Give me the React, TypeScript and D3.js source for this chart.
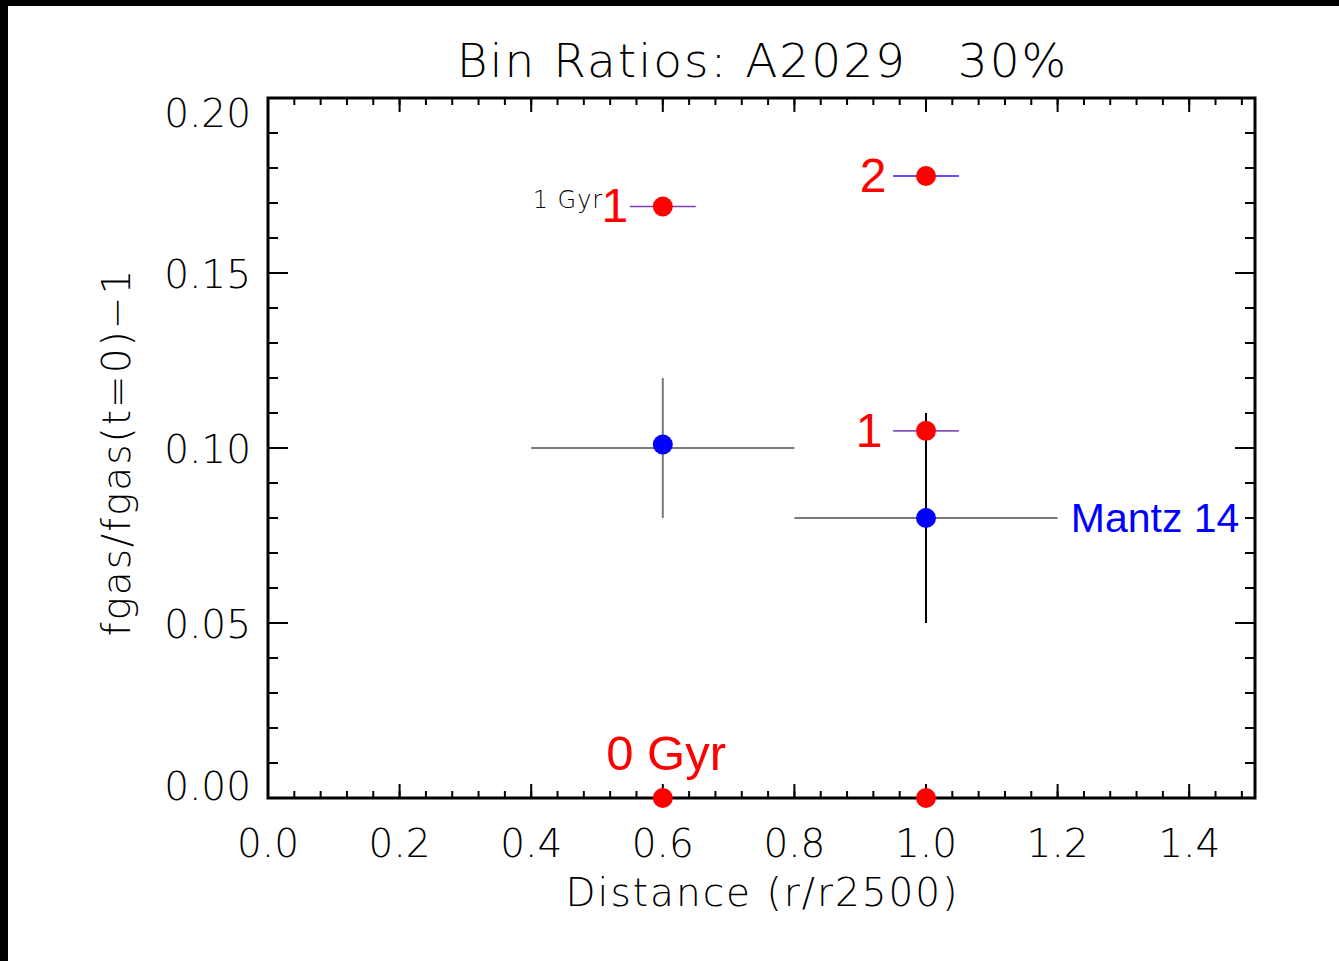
import React from 'react';
import * as d3 from 'd3';

// chart values
const xDomain = [0, 1.5];
const yDomain = [0, 0.2];
const xTickLabels = ['0.0', '0.2', '0.4', '0.6', '0.8', '1.0', '1.2', '1.4'];
const yTickLabels = ['0.00', '0.05', '0.10', '0.15', '0.20'];

// Mantz 14 (blue) with error bars
const blueX = [0.6, 1.0];
const blueY = [0.101, 0.08];
const blueBarY = [0.1, 0.08];
const blueXLo = [0.4, 0.8];
const blueXHi = [0.8, 1.2];
const blueYLo = [0.08, 0.05];
const blueYHi = [0.12, 0.11];
const blueVColor = ['#7a7a7a', '#000000'];

// simulation bins (red)
const redX = [0.6, 1.0, 1.0, 0.6, 1.0];
const redY = [0.169, 0.1777, 0.1049, 0, 0];
const redHalfW = [0.05, 0.05, 0.05, 0, 0];
const redBarColor = ['#7d3fb4', '#3a10ff', '#8c52bc', 'none', 'none'];

// text annotations in data units (baseline position)
const notes = [
  { text: '1 Gyr', x: 0.5095, y: 0.1686, anchor: 'end', color: '#000', size: 24, hershey: true },
  { text: '1', x: 0.5475, y: 0.1646, anchor: 'end', color: '#ff0000', size: 48, hershey: false },
  { text: '2', x: 0.94, y: 0.1731, anchor: 'end', color: '#ff0000', size: 48, hershey: false },
  { text: '1', x: 0.934, y: 0.1003, anchor: 'end', color: '#ff0000', size: 48, hershey: false },
  { text: '0 Gyr', x: 0.514, y: 0.008, anchor: 'start', color: '#ff0000', size: 49, hershey: false },
  { text: 'Mantz 14', x: 1.22, y: 0.076, anchor: 'start', color: '#0000ff', size: 41, hershey: false },
];

const W = 1339;
const H = 961;
const left = 268;
const right = 1255;
const top = 98;
const bottom = 798;

const thinFont = '"DejaVu Sans", sans-serif';
const arialFont = '"Liberation Sans", Arial, sans-serif';

export default function App() {
  const x = d3.scaleLinear().domain(xDomain).range([left, right]);
  const y = d3.scaleLinear().domain(yDomain).range([bottom, top]);

  const xMajor = d3.range(0, 1.5001, 0.2);
  const xMinor = d3.range(0, 1.5001, 0.04);
  const yMajor = d3.range(0, 0.2001, 0.05);
  const yMinor = d3.range(0, 0.2001, 0.01);

  const xLen = 14, xLenMinor = 7;
  const yLen = 20, yLenMinor = 10;

  return (
    <svg width={W} height={H} style={{ position: 'absolute', left: 0, top: 0 }}>
      <rect x={0} y={0} width={W} height={H} fill="#000" />
      <rect x={8} y={6} width={W - 8} height={H - 6} fill="#fff" />

      {/* title */}
      <text x={(left + right) / 2 + 1} y={77} textAnchor="middle" fontFamily={thinFont} fontWeight={200}
        fontSize={47} letterSpacing={2} fill="#000" style={{ whiteSpace: 'pre' }}>
        {'Bin Ratios: A2029   30%'}
      </text>

      {/* ticks */}
      <g stroke="#000" strokeWidth={2}>
        {xMinor.map((v, i) => (
          <g key={'xm' + i}>
            <line x1={x(v)} x2={x(v)} y1={bottom} y2={bottom - xLenMinor} />
            <line x1={x(v)} x2={x(v)} y1={top} y2={top + xLenMinor} />
          </g>
        ))}
        {xMajor.map((v, i) => (
          <g key={'xM' + i}>
            <line x1={x(v)} x2={x(v)} y1={bottom} y2={bottom - xLen} />
            <line x1={x(v)} x2={x(v)} y1={top} y2={top + xLen} />
          </g>
        ))}
        {yMinor.map((v, i) => (
          <g key={'ym' + i}>
            <line x1={left} x2={left + yLenMinor} y1={y(v)} y2={y(v)} />
            <line x1={right} x2={right - yLenMinor} y1={y(v)} y2={y(v)} />
          </g>
        ))}
        {yMajor.map((v, i) => (
          <g key={'yM' + i}>
            <line x1={left} x2={left + yLen} y1={y(v)} y2={y(v)} />
            <line x1={right} x2={right - yLen} y1={y(v)} y2={y(v)} />
          </g>
        ))}
      </g>
      <rect x={left} y={top} width={right - left} height={bottom - top} fill="none" stroke="#000" strokeWidth={3} />

      {/* tick labels */}
      {xMajor.map((v, i) => (
        <text key={'xl' + i} x={x(v)} y={857} textAnchor="middle" fontFamily={thinFont} fontWeight={200}
          fontSize={39} fill="#000">{xTickLabels[i]}</text>
      ))}
      {yMajor.map((v, i) => {
        const c = Math.min(Math.max(y(v), top + 14), bottom - 13);
        return (
          <text key={'yl' + i} x={251} y={c + 15} textAnchor="end" fontFamily={thinFont} fontWeight={200}
            fontSize={39} fill="#000">{yTickLabels[i]}</text>
        );
      })}

      {/* axis titles */}
      <text x={(left + right) / 2 + 1} y={906} textAnchor="middle" fontFamily={thinFont} fontWeight={200}
        fontSize={39} letterSpacing={2} fill="#000">Distance (r/r2500)</text>
      <text transform={`translate(130,${(top + bottom) / 2 + 4}) rotate(-90)`} textAnchor="middle"
        fontFamily={thinFont} fontWeight={200} fontSize={39} letterSpacing={2} fill="#000">fgas/fgas(t=0)−1</text>

      {/* blue error bars */}
      {blueX.map((v, i) => (
        <g key={'be' + i} strokeWidth={2}>
          <line x1={x(blueXLo[i])} x2={x(blueXHi[i])} y1={y(blueBarY[i])} y2={y(blueBarY[i])} stroke="#7a7a7a" />
          <line x1={x(v)} x2={x(v)} y1={y(blueYLo[i])} y2={y(blueYHi[i])} stroke={blueVColor[i]} />
        </g>
      ))}

      {/* red bars */}
      {redX.map((v, i) =>
        redHalfW[i] > 0 ? (
          <line key={'rb' + i} x1={x(v - redHalfW[i])} x2={x(v + redHalfW[i])} y1={y(redY[i])} y2={y(redY[i])}
            stroke={redBarColor[i]} strokeWidth={1.6} />
        ) : null
      )}

      {/* points */}
      {blueX.map((v, i) => (
        <circle key={'bp' + i} cx={x(v)} cy={y(blueY[i])} r={10} fill="#0000ff" />
      ))}
      {redX.map((v, i) => (
        <circle key={'rp' + i} cx={x(v)} cy={y(redY[i])} r={10} fill="#ff0000" />
      ))}

      {/* annotations */}
      {notes.map((n, i) => (
        <text key={'n' + i} x={x(n.x)} y={y(n.y)} textAnchor={n.anchor as any}
          fontFamily={n.hershey ? thinFont : arialFont} fontWeight={n.hershey ? 200 : 400}
          fontSize={n.size} letterSpacing={n.hershey ? 1 : 0} fill={n.color}
          style={{ whiteSpace: 'pre' }}>{n.text}</text>
      ))}
    </svg>
  );
}
